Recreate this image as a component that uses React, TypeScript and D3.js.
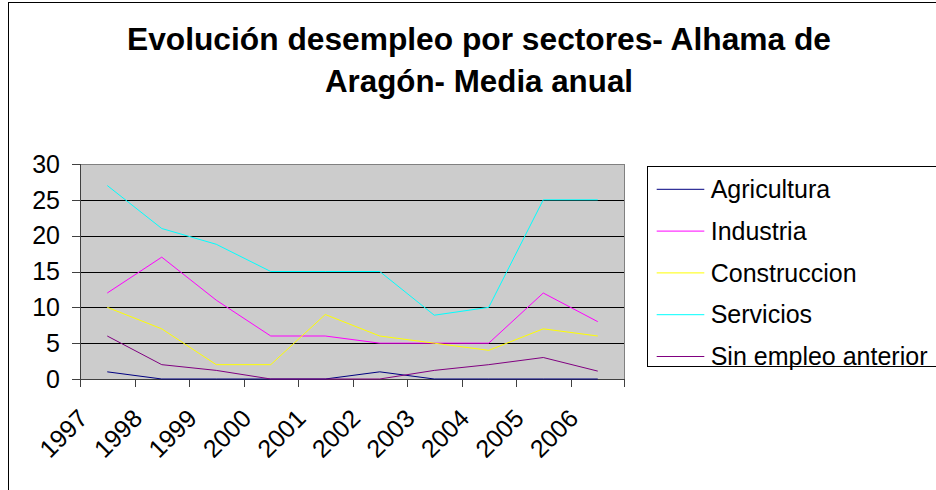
import React from "react";
import * as d3 from "d3";

const years = ["1997", "1998", "1999", "2000", "2001", "2002", "2003", "2004", "2005", "2006"];
const agricultura = [1, 0, 0, 0, 0, 1, 0, 0, 0, 0];
const industria = [12, 17, 11, 6, 6, 5, 5, 5, 12, 8];
const construccion = [10, 7, 2, 2, 9, 6, 5, 4, 7, 6];
const servicios = [27, 21, 18.8, 15, 15, 15, 8.9, 10, 25, 25];
const sinEmpleo = [6, 2, 1.2, 0, 0, 0, 1.2, 2, 3, 1.1];
const yTicks = [0, 5, 10, 15, 20, 25, 30];
const titleLines = ["Evolución desempleo por sectores- Alhama de", "Aragón- Media anual"];
const titleWidths = [704, 308];

const series = [
  { name: "Agricultura", values: agricultura, color: "#000080" },
  { name: "Industria", values: industria, color: "#FF00FF" },
  { name: "Construccion", values: construccion, color: "#FFFF00" },
  { name: "Servicios", values: servicios, color: "#00FFFF" },
  { name: "Sin empleo anterior", values: sinEmpleo, color: "#800080" },
];

const FONT = "'Liberation Sans', Arial, Helvetica, sans-serif";

export default function App() {
  const left = 80, right = 625, top = 164, bottom = 379;
  const x = d3.scaleBand<string>().domain(years).range([left, right]).padding(0);
  const y = d3.scaleLinear().domain([0, 30]).range([bottom, top]);
  const cx = (i: number) => (x(years[i]) as number) + x.bandwidth() / 2;
  const line = d3
    .line<number>()
    .x((_, i) => cx(i))
    .y((d) => y(d));

  const legendX = 647.5, legendY = 166.5, legendRow = 41.8, legendFirst = 189.3;

  return (
    <svg
      width={936}
      height={490}
      style={{ position: "absolute", left: 0, top: 0, background: "#fff" }}
      fontFamily={FONT}
    >
      <rect x={8.5} y={2.5} width={1000} height={1000} fill="#fff" stroke="#000" strokeWidth={1} />
      {titleLines.map((t, i) => (
        <text
          key={i}
          x={479}
          y={50 + i * 41.7}
          textAnchor="middle"
          fontSize={31}
          fontWeight="bold"
          fill="#000"
          textLength={titleWidths[i]}
          lengthAdjust="spacingAndGlyphs"
        >
          {t}
        </text>
      ))}
      <rect x={left} y={top} width={right - left} height={bottom - top} fill="#CCCCCC" />
      {yTicks.filter((t) => t > 0 && t < 30).map((t) => (
        <line key={t} x1={left} x2={right} y1={Math.round(y(t)) + 0.5} y2={Math.round(y(t)) + 0.5} stroke="#000" strokeWidth={1} />
      ))}
      <line x1={left} x2={right} y1={top + 0.5} y2={top + 0.5} stroke="#808080" />
      <line x1={right - 0.5} x2={right - 0.5} y1={top} y2={bottom} stroke="#808080" />
      <line x1={left + 0.5} x2={left + 0.5} y1={top} y2={bottom} stroke="#404040" />
      <line x1={left - 8} x2={right} y1={bottom + 0.5} y2={bottom + 0.5} stroke="#404040" />
      {yTicks.map((t) => (
        <g key={t}>
          <line x1={left - 8} x2={left} y1={Math.round(y(t)) + 0.5} y2={Math.round(y(t)) + 0.5} stroke="#404040" />
          <text x={60} y={y(t)} dy="0.35em" textAnchor="end" fontSize={25} fill="#000">
            {t}
          </text>
        </g>
      ))}
      {years.map((yr) => (
        <line key={"t" + yr} x1={Math.round(x(yr) as number) + 0.5} x2={Math.round(x(yr) as number) + 0.5} y1={bottom} y2={bottom + 8} stroke="#404040" />
      ))}
      <line x1={right - 0.5} x2={right - 0.5} y1={bottom} y2={bottom + 8} stroke="#404040" />
      {years.map((yr, i) => (
        <text
          key={"l" + yr}
          transform={`translate(${cx(i) - 18},${420}) rotate(-45)`}
          textAnchor="end"
          fontSize={25}
          fill="#000"
        >
          {yr}
        </text>
      ))}
      {series.map((s) => (
        <path key={s.name} d={line(s.values) as string} fill="none" stroke={s.color} strokeWidth={1} />
      ))}
      <rect x={legendX} y={legendY} width={400} height={200} fill="#fff" stroke="#000" strokeWidth={1} />
      {series.map((s, i) => (
        <g key={"lg" + s.name}>
          <line x1={656.7} x2={704.3} y1={legendFirst + i * legendRow} y2={legendFirst + i * legendRow} stroke={s.color} strokeWidth={1} />
          <text x={710.7} y={legendFirst + i * legendRow} dy="0.35em" fontSize={25} fill="#000">
            {s.name}
          </text>
        </g>
      ))}
    </svg>
  );
}
